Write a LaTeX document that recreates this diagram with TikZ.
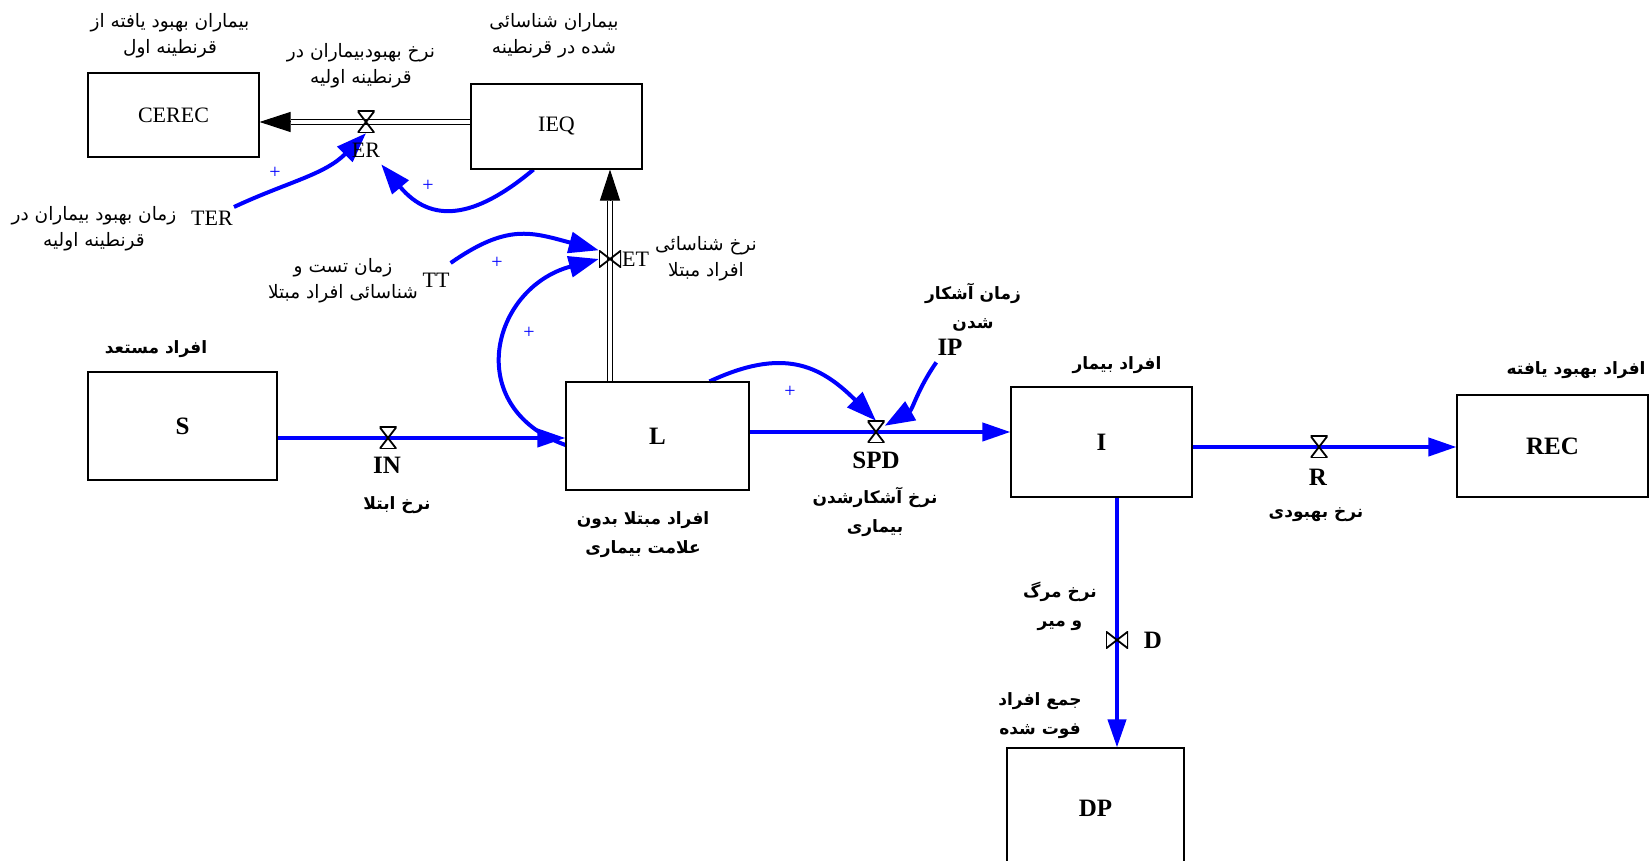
\documentclass[tikz,border=0pt]{standalone}
\usepackage{fontspec}
\setmainfont{Liberation Serif}
\newfontfamily\fa[Script=Arabic]{DejaVu Sans}
\TeXXeTstate=1
\usetikzlibrary{arrows.meta,backgrounds}

\begin{document}
\begin{tikzpicture}[x=1pt,y=1pt]

\tikzset{
  level/.style = {draw, line width=1.1pt, inner sep=0pt},
  nm/.style    = {inner sep=1pt, font=\fontsize{22}{24}\selectfont},
  nmb/.style   = {inner sep=1pt, font=\fontsize{25}{27}\selectfont\bfseries},
  fa/.style    = {inner sep=0pt, align=center, font=\fa\fontsize{18.5}{26}\selectfont},
  fab/.style   = {inner sep=0pt, align=center, font=\fa\bfseries\fontsize{17}{29}\selectfont},
  valveh/.style = {inner sep=0pt, minimum width=17pt, minimum height=22pt,
    path picture={\draw[line width=1.8pt] (path picture bounding box.north west)
      -- (path picture bounding box.north east) -- (path picture bounding box.south west)
      -- (path picture bounding box.south east) -- cycle;}},
  valvev/.style = {inner sep=0pt, minimum width=22pt, minimum height=17pt,
    path picture={\draw[line width=1.8pt] (path picture bounding box.north west)
      -- (path picture bounding box.south west) -- (path picture bounding box.north east)
      -- (path picture bounding box.south east) -- cycle;}},
  flow/.style  = {blue, line width=4pt, -{Triangle[length=28pt,width=18pt]}},
  link/.style  = {blue, line width=4pt, -{Triangle[length=30pt,width=21pt]}},
  pipe/.style  = {draw=black, double=white, double distance=4pt, line width=1pt},
  pipehead/.style = {line width=1pt, -{Triangle[length=31pt,width=20pt]}},
  plus/.style  = {text=blue, inner sep=0pt, font=\fontsize{20}{20}\selectfont}
}

\clip (0,0) rectangle (1649,861);

% stocks
\node[level, nm,  minimum width=171pt, minimum height=84pt]  (CEREC) at (173.5,746) {CEREC};
\node[level, nm,  minimum width=171pt, minimum height=85pt]  (IEQ)   at (556.5,734.5) {IEQ};
\node[level, nmb, minimum width=189pt, minimum height=108pt] (S)     at (182.5,435) {S};
\node[level, nmb, minimum width=183pt, minimum height=108pt] (L)     at (657.5,425) {L};
\node[level, nmb, minimum width=181pt, minimum height=110pt] (I)     at (1101.5,419) {I};
\node[level, nmb, minimum width=191pt, minimum height=102pt] (REC)   at (1552.5,415) {REC};
\node[level, nmb, minimum width=177pt, minimum height=120pt] (DP)    at (1095.5,53) {DP};

% valves
\node[valveh] (vER)  at (366,739) {};
\node[valvev] (vET)  at (610,602) {};
\node[valveh] (vIN)  at (388,423) {};
\node[valveh] (vSPD) at (876,429) {};
\node[valveh] (vR)   at (1319,414) {};
\node[valvev] (vD)   at (1117,221) {};

% names
\node[nm] (ER)  at (366,711) {ER};
\node[nm, anchor=west] (ET) at (621,602) {ET};
\node[nm] (TER) at (212,643) {TER};
\node[nm] (TT)  at (436,581) {TT};
\node[nmb] (IN)  at (387,396) {IN};
\node[nmb] (SPD) at (876,401) {SPD};
\node[nmb] (IP)  at (950,514) {IP};
\node[nmb] (R)   at (1318,384) {R};
\node[nmb] (D)   at (1153,221) {D};

\node[fa] (lblCEREC) at (170,825)   {\beginR بیماران بهبود یافته از\endR\\\beginR قرنطینه اول\endR};
\node[fa] (lblER)    at (361,795.5) {\beginR نرخ بهبودبیماران در\endR\\\beginR قرنطینه اولیه\endR};
\node[fa] (lblIEQ)   at (554,825.5) {\beginR بیماران شناسائی\endR\\\beginR شده در قرنطینه\endR};
\node[fa] (lblTER)   at (94,632)    {\beginR زمان بهبود بیماران در\endR\\\beginR قرنطینه اولیه\endR};
\node[fa] (lblET)    at (706,602.5) {\beginR نرخ شناسائی\endR\\\beginR افراد مبتلا\endR};
\node[fa] (lblTT)    at (343,580.5) {\beginR زمان تست و\endR\\\beginR شناسائی افراد مبتلا\endR};
\node[fab] (lblS)    at (156,512)   {\beginR افراد مستعد\endR};
\node[fab] (lblIN)   at (397,356)   {\beginR نرخ ابتلا\endR};
\node[fab] (lblL)    at (643,326)   {\beginR افراد مبتلا بدون\endR\\\beginR علامت بیماری\endR};
\node[fab] (lblIP)   at (973,553.5) {\beginR زمان آشکار\endR\\\beginR شدن\endR};
\node[fab] (lblSPD)  at (875,349)   {\beginR نرخ  آشکارشدن\endR\\\beginR بیماری\endR};
\node[fab] (lblI)    at (1117,496)  {\beginR افراد بیمار\endR};
\node[fab] (lblREC)  at (1576,491)  {\beginR افراد بهبود یافته\endR};
\node[fab] (lblR)    at (1316,346)  {\beginR نرخ بهبودی\endR};
\node[fab] (lblD)    at (1060,255)  {\beginR نرخ مرگ\endR\\\beginR و میر\endR};
\node[fab] (lblDP)   at (1040,145.5) {\beginR جمع افراد\endR\\\beginR فوت شده\endR};

\node[plus] (p1) at (275,688) {+};
\node[plus] (p2) at (428,675) {+};
\node[plus] (p3) at (497,598) {+};
\node[plus] (p4) at (529,528) {+};
\node[plus] (p5) at (790,469) {+};

\coordinate (erEnd) at (CEREC.east |- vER);
\coordinate (etTop) at (vET |- IEQ.south);

\begin{scope}[on background layer]
% pipes
\draw[pipe] (IEQ.west |- vER) -- ([xshift=31pt]erEnd);
\draw[pipehead] ([xshift=31pt]erEnd) -- (erEnd);
\draw[pipe] (vET |- L.north) -- ([yshift=-31pt]etTop);
\draw[pipehead] ([yshift=-31pt]etTop) -- (etTop);

% flows
\draw[flow] (S.east |- vIN) -- (L.west |- vIN);
\draw[flow] (L.east |- vSPD) -- (I.west |- vSPD);
\draw[flow] (I.east |- vR) -- (REC.west |- vR);
\draw[flow] (I.south -| vD) -- (DP.north -| vD);

% links
\draw[link] ([yshift=11pt]TER.east) to[out=25,in=-135] (vER.south);
\draw[link] ([xshift=-23pt]IEQ.south) to[out=-140,in=-50,looseness=1.3] ([yshift=-6pt]ER.south east);
\draw[link] ([yshift=17pt]TT.east) to[out=35,in=165,looseness=1.2] (vET.north west);
\draw[link] ([yshift=-9pt]L.west) to[out=160,in=-165,looseness=1.5] (vET.west);
\draw[link] ([xshift=52pt]L.north) to[out=25,in=135,looseness=1.2] (vSPD.north);
\draw[link] ([yshift=-6pt]IP.south west) to[out=-125,in=30] ([yshift=-5pt]vSPD.north east);
\end{scope}

\end{tikzpicture}
\end{document}
